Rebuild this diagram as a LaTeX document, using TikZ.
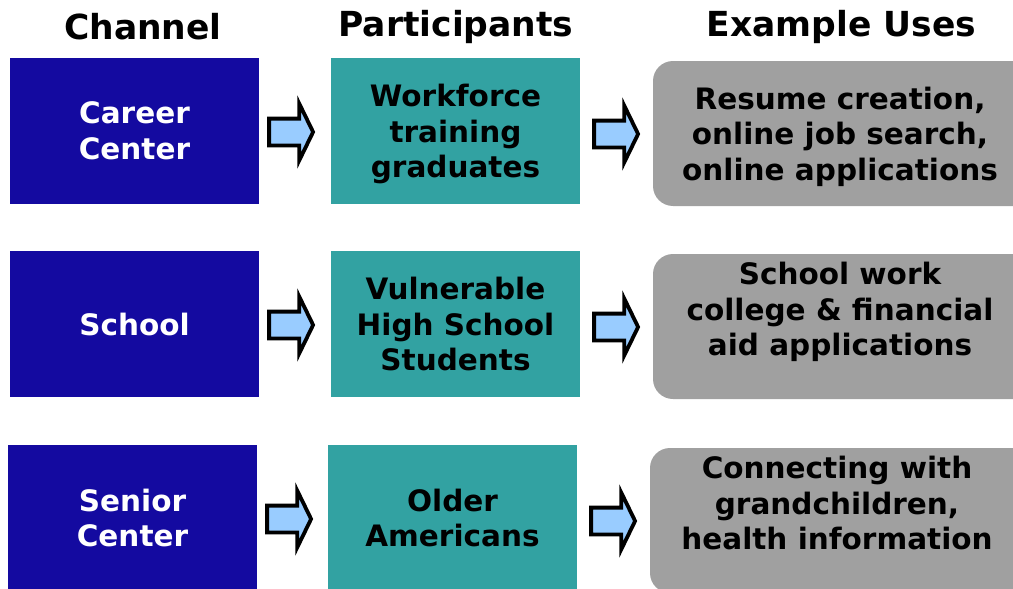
\documentclass[tikz,border=0pt]{standalone}
\usepackage{fontspec}
\setmainfont{DejaVu Sans}
\usetikzlibrary{shapes.arrows,calc}
\definecolor{chanblue}{RGB}{20,10,160}
\definecolor{partteal}{RGB}{50,162,162}
\definecolor{usegray}{RGB}{160,160,160}
\definecolor{arrowfill}{RGB}{153,204,255}
\tikzset{
  hdr/.style={font=\bfseries\fontsize{34.5}{40}\selectfont, text=black},
  chanbox/.style={fill=chanblue, minimum width=249pt, minimum height=146pt, inner sep=0pt, text=white,
    font=\bfseries\fontsize{29.5}{35.5}\selectfont, align=center},
  partbox/.style={fill=partteal, minimum width=249pt, minimum height=146pt, inner sep=0pt, text=black,
    font=\bfseries\fontsize{29.5}{35.5}\selectfont, align=center},
  usebox/.style={fill=usegray, minimum width=400pt, minimum height=145pt, inner sep=0pt, rounded corners=20pt},
  usetext/.style={text=black, font=\bfseries\fontsize{29.5}{35.5}\selectfont, align=center, inner sep=0pt},
  blockarrow/.style={shape=single arrow, draw=black, fill=arrowfill, line width=3.8pt, line join=miter,
    inner sep=0pt, text width=0pt, text height=11.5pt, text depth=11.5pt, minimum height=44pt,
    single arrow head extend=15pt, single arrow tip angle=128, anchor=tail},
}
\begin{document}
\begin{tikzpicture}[x=1pt,y=-1pt]
\useasboundingbox (0,0) rectangle (1013,589);
\clip (0,0) rectangle (1013,589);
% headers
\node[hdr] (h1) at (143,27) {Channel};
\node[hdr] (h2) at (456,27) {Participants};
\node[hdr] (h3) at (841.5,27) {Example Uses};
% row 1
\node[chanbox] (c1) at (134.5,131) {Career\\Center};
\node[partbox] (p1) at (455.5,131) {\rule{0pt}{29pt}Workforce\\training\\graduates};
\node[usebox] (u1) at (853,133.5) {};
\node[usetext] (t1) at (840,136.5) {Resume creation,\\online job search,\\online applications};
% row 2
\node[chanbox] (c2) at (134.5,324) {School};
\node[partbox] (p2) at (455.5,324) {Vulnerable\\High School\\Students};
\node[usebox] (u2) at (853,326.5) {};
\node[usetext] (t2) at (840,312) {School work\\college \& financial\\aid applications};
% row 3
\node[chanbox] (c3) at (132.5,518) {Senior\\Center};
\node[partbox] (p3) at (452.5,518) {Older\\Americans};
\node[usebox] (u3) at (850,520.5) {};
\node[usetext] (t3) at (837,503) {Connecting with\\grandchildren,\\health information};
% arrows
\node[blockarrow] (a11) at ($(c1.east)+(8,1)$) {};
\node[blockarrow] (a12) at ($(p1.east)+(12,3)$) {};
\node[blockarrow] (a21) at ($(c2.east)+(8,1)$) {};
\node[blockarrow] (a22) at ($(p2.east)+(12,3)$) {};
\node[blockarrow] (a31) at ($(c3.east)+(8,1)$) {};
\node[blockarrow] (a32) at ($(p3.east)+(12,3)$) {};
\end{tikzpicture}
\end{document}
